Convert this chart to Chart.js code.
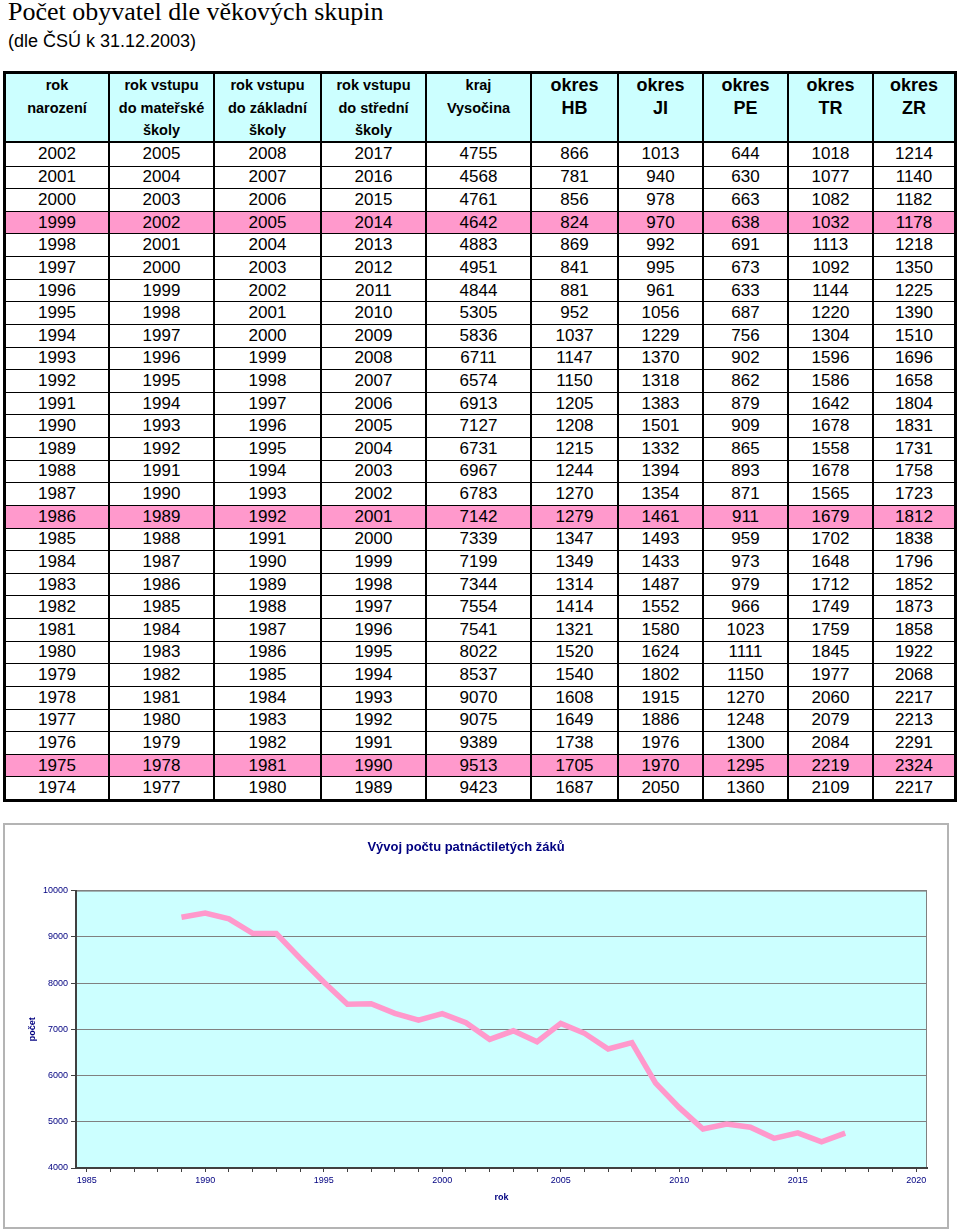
<!DOCTYPE html>
<html lang="cs">
<head>
<meta charset="utf-8">
<title>Počet obyvatel dle věkových skupin</title>
<script src="https://cdn.jsdelivr.net/npm/chart.js@4.4.0/dist/chart.umd.min.js"></script>
<style>
  body { margin: 0; width: 960px; height: 1230px; position: relative; background: #fff; overflow: hidden;
         font-family: "Liberation Sans", Arial, sans-serif; color: #000; }
  #title { position: absolute; left: 8px; top: -1px; font-family: "Liberation Serif", "Times New Roman", serif;
           font-size: 26px; line-height: 26px; white-space: nowrap; }
  #subtitle { position: absolute; left: 8px; top: 32px; font-size: 18px; line-height: 18px; white-space: nowrap; }
  #tbl { position: absolute; left: 3px; top: 71px; width: 954px; height: 731px; box-sizing: border-box;
         border: 3px solid #000; display: grid;
         grid-template-columns: 102px 105px 107px 105px 105px 87px 85px 85px 85px 82px;
         grid-template-rows: 69px repeat(29, 1fr); }
  .c { box-sizing: border-box; border-left: 2px solid #000; border-top: 1px solid #000; display: flex;
       align-items: center; justify-content: center; font-size: 17px; background: #fff; }
  .c.first { border-left: none; }
  .c.top { border-top: none; }
  .c.pink { background: #ff99cc; }
  .h { box-sizing: border-box; border-left: 2px solid #000; border-bottom: 2px solid #000; background: #ccffff;
       text-align: center; font-weight: bold; font-size: 14.5px; line-height: 22.5px; padding-top: 0; }
  .h.first { border-left: none; }
  .h.big { font-size: 18px; }
  #chartBox { position: absolute; left: 3px; top: 823px; width: 946px; height: 406px; box-sizing: border-box;
              border: 2px solid #b4b4b4; background: #fff; }
  #chartWrap { position: relative; width: 942px; height: 402px; }
</style>
</head>
<body>
<div id="title">Počet obyvatel dle věkových skupin</div>
<div id="subtitle">(dle ČSÚ k 31.12.2003)</div>
<div id="tbl"></div>
<div id="chartBox"><div id="chartWrap"><canvas id="graf"></canvas></div></div>

<script>
const rokNarozeni = [2002, 2001, 2000, 1999, 1998, 1997, 1996, 1995, 1994, 1993, 1992, 1991, 1990, 1989, 1988,
  1987, 1986, 1985, 1984, 1983, 1982, 1981, 1980, 1979, 1978, 1977, 1976, 1975, 1974];
const rokMaterska = [2005, 2004, 2003, 2002, 2001, 2000, 1999, 1998, 1997, 1996, 1995, 1994, 1993, 1992, 1991,
  1990, 1989, 1988, 1987, 1986, 1985, 1984, 1983, 1982, 1981, 1980, 1979, 1978, 1977];
const rokZakladni = [2008, 2007, 2006, 2005, 2004, 2003, 2002, 2001, 2000, 1999, 1998, 1997, 1996, 1995, 1994,
  1993, 1992, 1991, 1990, 1989, 1988, 1987, 1986, 1985, 1984, 1983, 1982, 1981, 1980];
const rokStredni = [2017, 2016, 2015, 2014, 2013, 2012, 2011, 2010, 2009, 2008, 2007, 2006, 2005, 2004, 2003,
  2002, 2001, 2000, 1999, 1998, 1997, 1996, 1995, 1994, 1993, 1992, 1991, 1990, 1989];
const krajVysocina = [4755, 4568, 4761, 4642, 4883, 4951, 4844, 5305, 5836, 6711, 6574, 6913, 7127, 6731, 6967,
  6783, 7142, 7339, 7199, 7344, 7554, 7541, 8022, 8537, 9070, 9075, 9389, 9513, 9423];
const okresHB = [866, 781, 856, 824, 869, 841, 881, 952, 1037, 1147, 1150, 1205, 1208, 1215, 1244,
  1270, 1279, 1347, 1349, 1314, 1414, 1321, 1520, 1540, 1608, 1649, 1738, 1705, 1687];
const okresJI = [1013, 940, 978, 970, 992, 995, 961, 1056, 1229, 1370, 1318, 1383, 1501, 1332, 1394,
  1354, 1461, 1493, 1433, 1487, 1552, 1580, 1624, 1802, 1915, 1886, 1976, 1970, 2050];
const okresPE = [644, 630, 663, 638, 691, 673, 633, 687, 756, 902, 862, 879, 909, 865, 893,
  871, 911, 959, 973, 979, 966, 1023, 1111, 1150, 1270, 1248, 1300, 1295, 1360];
const okresTR = [1018, 1077, 1082, 1032, 1113, 1092, 1144, 1220, 1304, 1596, 1586, 1642, 1678, 1558, 1678,
  1565, 1679, 1702, 1648, 1712, 1749, 1759, 1845, 1977, 2060, 2079, 2084, 2219, 2109];
const okresZR = [1214, 1140, 1182, 1178, 1218, 1350, 1225, 1390, 1510, 1696, 1658, 1804, 1831, 1731, 1758,
  1723, 1812, 1838, 1796, 1852, 1873, 1858, 1922, 2068, 2217, 2213, 2291, 2324, 2217];

// zvyraznene radky (ruzove)
const zvyrazneneRoky = [1999, 1986, 1975];

const osaXPopisky = [1985, 1990, 1995, 2000, 2005, 2010, 2015, 2020];

const sloupce = [
  { head: ['rok', 'narození'], values: rokNarozeni },
  { head: ['rok vstupu', 'do mateřské', 'školy'], values: rokMaterska },
  { head: ['rok vstupu', 'do základní', 'školy'], values: rokZakladni },
  { head: ['rok vstupu', 'do střední', 'školy'], values: rokStredni },
  { head: ['kraj', 'Vysočina'], values: krajVysocina },
  { head: ['okres', 'HB'], big: true, values: okresHB },
  { head: ['okres', 'JI'], big: true, values: okresJI },
  { head: ['okres', 'PE'], big: true, values: okresPE },
  { head: ['okres', 'TR'], big: true, values: okresTR },
  { head: ['okres', 'ZR'], big: true, values: okresZR }
];

// tabulka
const tbl = document.getElementById('tbl');
sloupce.forEach((s, j) => {
  const d = document.createElement('div');
  d.className = 'h' + (j === 0 ? ' first' : '') + (s.big ? ' big' : '');
  d.innerHTML = s.head.join('<br>');
  tbl.appendChild(d);
});
rokNarozeni.forEach((rok, i) => {
  sloupce.forEach((s, j) => {
    const d = document.createElement('div');
    let cls = 'c';
    if (j === 0) cls += ' first';
    if (i === 0) cls += ' top';
    if (zvyrazneneRoky.includes(rok)) cls += ' pink';
    d.className = cls;
    d.textContent = s.values[i];
    tbl.appendChild(d);
  });
});

// graf
const plotBackground = {
  id: 'plotBackground',
  beforeDraw(chart) {
    const { ctx, chartArea: a } = chart;
    ctx.save();
    ctx.fillStyle = '#ccffff';
    ctx.fillRect(a.left, a.top, a.width, a.height);
    ctx.strokeStyle = '#808080';
    ctx.lineWidth = 1;
    ctx.strokeRect(a.left, a.top + 0.5, a.width - 0.5, a.height);
    ctx.restore();
  }
};

const navy = '#000080';
const body = { family: '"Liberation Sans", Arial, sans-serif' };

new Chart(document.getElementById('graf'), {
  type: 'line',
  data: {
    datasets: [{
      label: 'kraj Vysočina',
      data: rokStredni.map((r, i) => ({ x: r, y: krajVysocina[i] })),
      borderColor: '#ff99cc',
      borderWidth: 5.5,
      pointRadius: 0,
      tension: 0,
      fill: false
    }]
  },
  options: {
    responsive: true,
    maintainAspectRatio: false,
    animation: false,
    layout: { padding: { left: 0, right: 20, top: 0, bottom: 0 } },
    plugins: {
      legend: { display: false },
      tooltip: { enabled: false },
      title: {
        display: true,
        text: 'Vývoj počtu patnáctiletých žáků',
        color: navy,
        font: { ...body, size: 13, weight: 'bold' },
        padding: { top: 15, bottom: 35 }
      }
    },
    scales: {
      x: {
        type: 'linear',
        min: 1984.55,
        max: 2020.45,
        afterFit: s => { s.height = 59; },
        ticks: {
          stepSize: 1,
          includeBounds: false,
          autoSkip: false,
          maxRotation: 0,
          padding: 3,
          color: navy,
          font: { ...body, size: 9 },
          callback: v => osaXPopisky.includes(v) ? String(v) : ''
        },
        grid: { drawOnChartArea: false, drawTicks: true, tickLength: 4, color: '#404040' },
        border: { color: '#404040', width: 2 },
        title: { display: true, text: 'rok', color: navy, font: { ...body, size: 9, weight: 'bold' },
                 padding: { top: 4, bottom: 24 } }
      },
      y: {
        min: 4000,
        max: 10000,
        afterFit: s => { s.width = 71; },
        ticks: { stepSize: 1000, padding: 3, color: navy, font: { ...body, size: 9 }, callback: v => String(v) },
        grid: { color: '#808080', tickColor: '#404040', tickLength: 5 },
        border: { color: '#404040', width: 2 },
        title: { display: true, text: 'počet', color: navy, font: { ...body, size: 9, weight: 'bold' },
                 padding: { top: 22.6, bottom: 4 } }
      }
    }
  },
  plugins: [plotBackground]
});
</script>
</body>
</html>
